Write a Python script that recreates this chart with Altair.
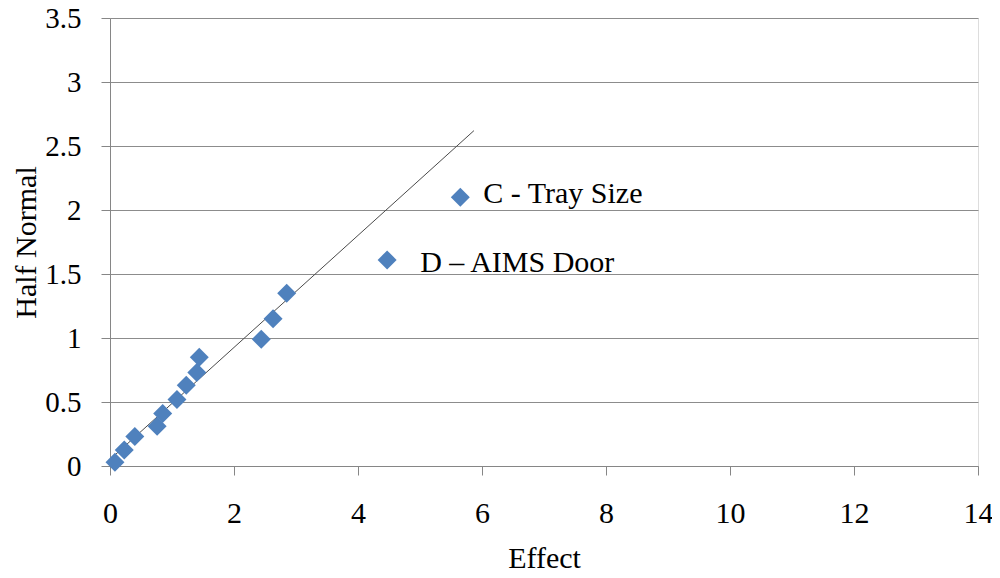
import altair as alt
import pandas as pd

# Data
effect = [0.08, 0.23, 0.40, 0.76, 0.85, 1.08, 1.23, 1.40, 1.44, 2.44, 2.63, 2.85, 4.47, 5.65]
half_normal = [0.03, 0.125, 0.23, 0.31, 0.41, 0.52, 0.63, 0.73, 0.85, 0.99, 1.15, 1.35, 1.61, 2.10]

fit_x = [0.08, 5.87]
fit_y = [0.086, 2.62]

x_ticks = [0, 2, 4, 6, 8, 10, 12, 14]
y_ticks = [0, 0.5, 1, 1.5, 2, 2.5, 3, 3.5]

label_text = ["C - Tray Size", "D \u2013 AIMS Door"]
label_x = [5.65, 4.47]
label_y = [2.10, 1.61]

pts = pd.DataFrame({"Effect": effect, "HalfNormal": half_normal})
fit = pd.DataFrame({"Effect": fit_x, "HalfNormal": fit_y})

FONT = "Liberation Serif"

xscale = alt.Scale(domain=[0, 14], nice=False, zero=False)
yscale = alt.Scale(domain=[0, 3.5], nice=False, zero=False)

xaxis = alt.Axis(
    title="Effect", values=x_ticks, format="d", grid=False, labelFlush=False,
    labelFont=FONT, labelFontSize=30, labelColor="black", labelPadding=23,
    tickSize=9, tickColor="#868686", domainColor="#868686",
    titleFont=FONT, titleFontSize=30, titleFontWeight="normal", titleColor="black",
    titleBaseline="alphabetic", titleY=101, titleX=434, titleAlign="center",
)
yaxis = alt.Axis(
    title="Half Normal", values=y_ticks, labelFlush=False,
    labelExpr="datum.value", grid=True, gridColor="#8c8c8c",
    labelFont=FONT, labelFontSize=29, labelColor="black", labelPadding=20,
    tickSize=9, tickColor="#868686", domainColor="#868686",
    titleFont=FONT, titleFontSize=30, titleFontWeight="normal", titleColor="black",
    titleBaseline="alphabetic", titleX=-75, titleY=224, titleAlign="center", titleAngle=270,
)

line = alt.Chart(fit).mark_line(color="#4a4a4a", strokeWidth=1).encode(
    x=alt.X("Effect:Q", scale=xscale, axis=xaxis),
    y=alt.Y("HalfNormal:Q", scale=yscale, axis=yaxis),
)

points = alt.Chart(pts).mark_point(
    shape="diamond", filled=True, size=360, color="#4F81BD", opacity=1
).encode(
    x=alt.X("Effect:Q", scale=xscale),
    y=alt.Y("HalfNormal:Q", scale=yscale),
)

lab_c = alt.Chart(pd.DataFrame({"Effect": [label_x[0]], "HalfNormal": [label_y[0]], "t": [label_text[0]]})).mark_text(
    align="left", baseline="alphabetic", dx=23, dy=6, font=FONT, fontSize=30, color="black"
).encode(x=alt.X("Effect:Q", scale=xscale), y=alt.Y("HalfNormal:Q", scale=yscale), text="t:N")

lab_d = alt.Chart(pd.DataFrame({"Effect": [label_x[1]], "HalfNormal": [label_y[1]], "t": [label_text[1]]})).mark_text(
    align="left", baseline="alphabetic", dx=33, dy=12, font=FONT, fontSize=30, color="black"
).encode(x=alt.X("Effect:Q", scale=xscale), y=alt.Y("HalfNormal:Q", scale=yscale), text="t:N")

chart = alt.layer(line, points, lab_c, lab_d).properties(
    width=868, height=448,
    autosize="none",
    padding={"left": 102, "top": 10, "right": 14, "bottom": 104},
).configure_view(stroke="#6f6f6f", strokeWidth=1.2).configure(background="white")

chart.save("out.html", embed_options={"renderer": "svg", "actions": False})
